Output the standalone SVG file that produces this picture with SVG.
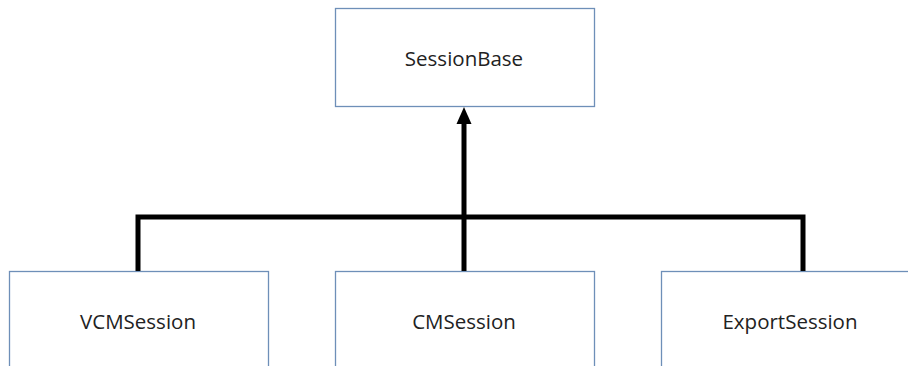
<svg xmlns="http://www.w3.org/2000/svg" width="908" height="366" viewBox="0 0 908 366">
<style>
.box{fill:#fff;stroke:#6e8fb8;stroke-width:1.3}
.lbl{font-family:"Open Sans","Liberation Sans",sans-serif;font-size:20.5px;fill:#222;text-anchor:middle;dominant-baseline:central}
.conn{fill:none;stroke:#000;stroke-width:5}
.head{fill:#000}
</style>
<rect width="908" height="366" fill="#fff"/>
<g id="SessionBase"><rect class="box" x="335.5" y="8.5" width="259" height="98"/><text class="lbl" x="464" y="58">SessionBase</text></g>
<g id="VCMSession"><rect class="box" x="9.5" y="271.5" width="259" height="120"/><text class="lbl" x="138" y="321">VCMSession</text></g>
<g id="CMSession"><rect class="box" x="335.5" y="271.5" width="259" height="120"/><text class="lbl" x="464" y="321">CMSession</text></g>
<g id="ExportSession"><rect class="box" x="661.5" y="271.5" width="259" height="120"/><text class="lbl" x="790" y="321">ExportSession</text></g>
<g id="connectors">
<polyline class="conn" points="138,271 138,217 803,217 803,271"/>
<line class="conn" x1="464" y1="271" x2="464" y2="124"/>
<path class="head" d="M464,107 L456.5,124 L471.5,124 Z"/>
</g>
</svg>
